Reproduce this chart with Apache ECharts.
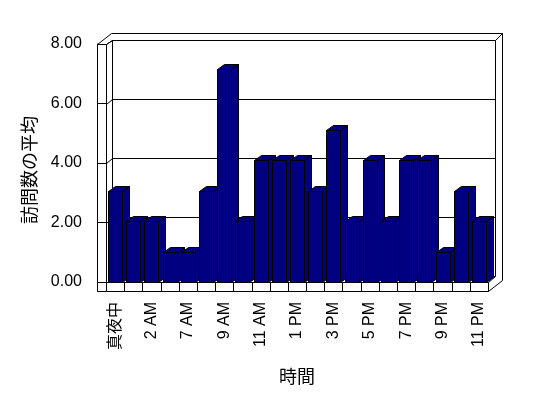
<!DOCTYPE html>
<html><head><meta charset="utf-8">
<script src="https://cdn.jsdelivr.net/npm/echarts@6/dist/echarts.min.js"></script>
<style>html,body{margin:0;padding:0;background:#fff}#c{width:548px;height:398px}</style>
</head><body><div id="c"></div>
<script>
// ---- data ----
const categories = ['真夜中','1 AM','2 AM','6 AM','7 AM','8 AM','9 AM','10 AM','11 AM','12 PM','1 PM','2 PM','3 PM','4 PM','5 PM','6 PM','7 PM','8 PM','9 PM','10 PM','11 PM'];
const avgVisits = [3,2,2,1,1,3,7,2,4,4,4,3,5,2,4,2,4,4,1,3,2];
const yTicks = [0,2,4,6,8];
const xTitle = '時間';
const yTitle = '訪問数の平均';

// ---- layout (pixels) ----
const FX0=97, FX1=106, FY0=44, FLOOR=282, FLOORB=291, FXR=488;
const BX0=112, BY0=40, BX1=495, BYB=276;
const OX1=502, OY0=33;
const FONT='"Liberation Sans","Noto Sans CJK JP",sans-serif';
const NAVY='#000080';

const chart = echarts.init(document.getElementById('c'));
const L = (x1,y1,x2,y2)=>({type:'line',z:1,silent:true,shape:{x1,y1,x2,y2},style:{stroke:'#000',lineWidth:1}});
const yMax = yTicks[yTicks.length-1], yInt = yTicks[1]-yTicks[0];

chart.setOption({
  animation:false,
  textStyle:{fontFamily:FONT,color:'#000'},
  grid:[
    {left:FX0, top:FY0, width:FXR-FX0, height:FLOOR-FY0},
    {left:BX0, top:BY0, width:BX1-BX0, height:BYB-BY0},
    {left:FX1, top:FLOOR-8*30.5, width:FXR-FX1, height:8*30.5}
  ],
  xAxis:[
    {gridIndex:0,type:'category',data:categories,show:false},
    {gridIndex:1,type:'category',data:categories,show:false},
    {gridIndex:2,type:'category',data:categories,
     axisLine:{show:false},axisTick:{show:false},
     axisLabel:{rotate:90,interval:1,margin:20,fontSize:16,color:'#000',fontFamily:FONT},
     name:xTitle,nameLocation:'middle',nameGap:87,
     nameTextStyle:{fontSize:18,color:'#000',fontFamily:FONT}}
  ],
  yAxis:[
    {gridIndex:0,type:'value',min:0,max:yMax,interval:yInt,
     axisLine:{show:true,lineStyle:{color:'#000'}},
     axisTick:{show:true,inside:true,length:9,lineStyle:{color:'#000'}},
     axisLabel:{formatter:v=>v.toFixed(2),fontSize:16,margin:15,color:'#000',fontFamily:FONT},
     splitLine:{show:false},
     name:yTitle,nameLocation:'middle',nameRotate:90,nameGap:56,
     nameTextStyle:{fontSize:18,color:'#000',fontFamily:FONT,padding:[0,0,0,-14]}},
    {gridIndex:1,type:'value',min:0,max:yMax,interval:yInt,
     axisLine:{show:false},axisTick:{show:false},axisLabel:{show:false},
     splitLine:{show:true,lineStyle:{color:'#000',width:1}}},
    {gridIndex:2,type:'value',min:0,max:yMax,show:false}
  ],
  series:[{
    type:'custom',xAxisIndex:2,yAxisIndex:2,z:5,
    data:avgVisits.map((v,i)=>[i,v]),
    renderItem(params,api){
      const top=api.coord([api.value(0),api.value(1)]);
      const bot=api.coord([api.value(0),0]);
      const w=14, dx=7, dy=-5;
      const l=Math.round(top[0]-w/2)+0.5, r=l+w, t=Math.round(top[1])+0.5, b=Math.round(bot[1])+0.5;
      const st={fill:NAVY,stroke:'#000',lineWidth:1};
      return {type:'group',children:[
        {type:'polygon',shape:{points:[[r,t],[r+dx,t+dy],[r+dx,b+dy],[r,b]]},style:st},
        {type:'polygon',shape:{points:[[l,t],[l+dx,t+dy],[r+dx,t+dy],[r,t]]},style:st},
        {type:'rect',shape:{x:l,y:t,width:w,height:b-t},style:st}
      ]};
    }
  }]
});

// walls & floor decoration derived from axes
const els=[];
const px=v=>Math.round(v)+0.5;
els.push(L(px(FX0),px(FY0),px(FX0),px(FLOORB)));
els.push(L(px(FX1),px(FY0),px(FX1),px(FLOOR)));
els.push(L(px(FX0),px(FY0),px(FX1),px(FY0)));
els.push(L(px(FX0),px(FY0),px(BX0-1),px(OY0)));
els.push(L(px(FX1),px(FY0),px(BX0),px(BY0)));
els.push(L(px(BX0-1),px(OY0),px(OX1),px(OY0)));
els.push(L(px(BX0),px(BY0),px(BX1),px(BY0)));
els.push(L(px(BX0),px(BY0),px(BX0),px(BYB)));
els.push(L(px(BX1),px(BY0),px(BX1),px(BYB)));
els.push(L(px(OX1),px(OY0),px(OX1),px(280)));
els.push(L(px(BX1),px(BY0),px(OX1),px(OY0)));
// floor
els.push({type:'rect',z:6,silent:true,shape:{x:px(FX0),y:px(FLOOR),width:FXR-FX0,height:FLOORB-FLOOR},style:{fill:'#fff',stroke:'#000',lineWidth:1}});
els.push(Object.assign(L(px(FX1),px(FLOOR),px(FX1),px(FLOORB)),{z:7}));
els.push(Object.assign(L(px(FXR),px(FLOORB),px(OX1),px(280)),{z:7}));
els.push(Object.assign(L(px(FXR),px(FLOOR),px(BX1),px(BYB)),{z:7}));
const step=(FXR-FX1)/categories.length;
for(let k=1;k<categories.length;k++){
  const x=px(FX1+k*step);
  els.push(Object.assign(L(x,px(FLOOR),x,px(FLOORB)),{z:7}));
}
// connectors from front axis to back wall gridlines
yTicks.forEach(v=>{
  if(v===0) return;
  const a=chart.convertToPixel({yAxisIndex:0},v);
  const bb=chart.convertToPixel({yAxisIndex:1},v);
  els.push(L(px(FX1),px(a),px(BX0),px(bb)));
});
chart.setOption({graphic:{elements:els}});
</script>
</body></html>
